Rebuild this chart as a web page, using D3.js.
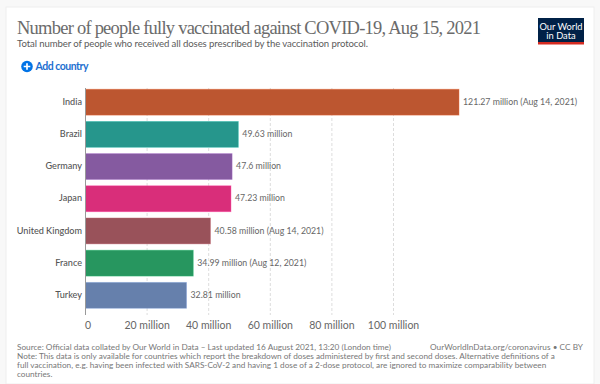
<!DOCTYPE html>
<html><head><meta charset="utf-8">
<script src="https://cdn.jsdelivr.net/npm/d3@7"></script>
<style>html,body{margin:0;padding:0;background:#f8f8f8}svg{display:block}text{font-family:Lato,sans-serif}</style>
</head><body><svg id="c" width="600" height="384"></svg>
<script>
const countries=["India","Brazil","Germany","Japan","United Kingdom","France","Turkey"];
const values=[121.27,49.63,47.6,47.23,40.58,34.99,32.81];
const valueLabels=["121.27 million (Aug 14, 2021)","49.63 million","47.6 million","47.23 million","40.58 million (Aug 14, 2021)","34.99 million (Aug 12, 2021)","32.81 million"];
const colors=["#BC5630","#26968C","#855AA0","#D92E7A","#99525A","#27965F","#6680AC"];
const ticks=[0,20,40,60,80,100];
const title="Number of people fully vaccinated against COVID-19, Aug 15, 2021";
const subtitle="Total number of people who received all doses prescribed by the vaccination protocol.";
const footer=["Source: Official data collated by Our World in Data – Last updated 16 August 2021, 13:20 (London time)",
"Note: This data is only available for countries which report the breakdown of doses administered by first and second doses. Alternative definitions of a",
"full vaccination, e.g. having been infected with SARS-CoV-2 and having 1 dose of a 2-dose protocol, are ignored to maximize comparability between",
"countries."];
const svg=d3.select("#c");
svg.append("rect").attr("x",6).attr("y",7).attr("width",588).attr("height",377).attr("fill","#fff").attr("stroke","#eee");
const x=d3.scaleLinear().domain([0,100]).range([85.5,393.5]);
const y=d3.scaleBand().domain(countries).range([86,311.5]).paddingInner(0.195).paddingOuter(0.1);
svg.append("text").attr("x",17).attr("y",34).attr("font-size",18.5).attr("fill","#6b6b6b").style("font-family","'Liberation Serif',serif").attr("textLength",464).attr("lengthAdjust","spacing").text(title);
svg.append("text").attr("x",17).attr("y",46.5).attr("font-size",9.6).attr("fill","#5b5b5b").attr("textLength",351).text(subtitle);
// logo
svg.append("rect").attr("x",538).attr("y",18).attr("width",46).attr("height",26).attr("fill","#002147");
svg.append("rect").attr("x",538).attr("y",42).attr("width",46).attr("height",2.5).attr("fill","#d42b21");
svg.append("text").attr("x",561).attr("y",29.5).attr("text-anchor","middle").attr("font-size",9.3).attr("fill","#fff").text("Our World");
svg.append("text").attr("x",561).attr("y",39).attr("text-anchor","middle").attr("font-size",9.3).attr("fill","#fff").text("in Data");
// add country
svg.append("circle").attr("cx",27).attr("cy",66.5).attr("r",5.8).attr("fill","#0073e6");
svg.append("path").attr("d","M23.7 66.5H30.3M27 63.2V69.8").attr("stroke","#fff").attr("stroke-width",1.7);
svg.append("text").attr("x",35.5).attr("y",70).attr("font-size",10.5).attr("font-weight",700).attr("fill","#1d6fd0").attr("textLength",53).text("Add country");
// grid
svg.append("g").selectAll("line").data(ticks.slice(1)).join("line")
 .attr("x1",d=>x(d)).attr("x2",d=>x(d)).attr("y1",88).attr("y2",315)
 .attr("stroke","#ddd").attr("stroke-dasharray","3,2");
// bars
svg.append("g").selectAll("rect").data(values).join("rect")
 .attr("x",x(0)).attr("y",(d,i)=>y(countries[i])).attr("width",d=>x(d)-x(0)).attr("height",y.bandwidth())
 .attr("fill",(d,i)=>colors[i]).attr("stroke",(d,i)=>d3.color(colors[i]).brighter(0.7)).attr("stroke-opacity",.5).attr("stroke-width",.8);
svg.append("line").attr("x1",x(0)).attr("x2",x(0)).attr("y1",88).attr("y2",315).attr("stroke","#999");
svg.append("g").selectAll("text").data(countries).join("text")
 .attr("x",82).attr("y",d=>y(d)+y.bandwidth()/2+2.6).attr("text-anchor","end").attr("font-size",9.1).attr("font-weight",500).attr("fill","#555").text(d=>d);
svg.append("g").selectAll("text").data(valueLabels).join("text")
 .attr("x",(d,i)=>x(values[i])+4).attr("y",(d,i)=>y(countries[i])+y.bandwidth()/2+2.6).attr("font-size",8.75).attr("fill","#666").text(d=>d);
const axisLabels=ticks.map(t=>t===0?"0":t+" million");
svg.append("g").selectAll("text").data(ticks).join("text")
 .attr("x",d=>d===0?88:x(d)).attr("y",329).attr("text-anchor","middle").attr("font-size",10.5).attr("fill","#666").text((d,i)=>axisLabels[i]);
// footer
svg.append("g").selectAll("text").data(footer).join("text")
 .attr("x",17).attr("y",(d,i)=>349.5+i*9.1).attr("font-size",8.22).attr("fill","#777").text(d=>d);
svg.append("text").attr("x",430).attr("y",349.5).attr("font-size",8.22).attr("fill","#777").attr("textLength",153).text("OurWorldInData.org/coronavirus • CC BY");
</script></body></html>
